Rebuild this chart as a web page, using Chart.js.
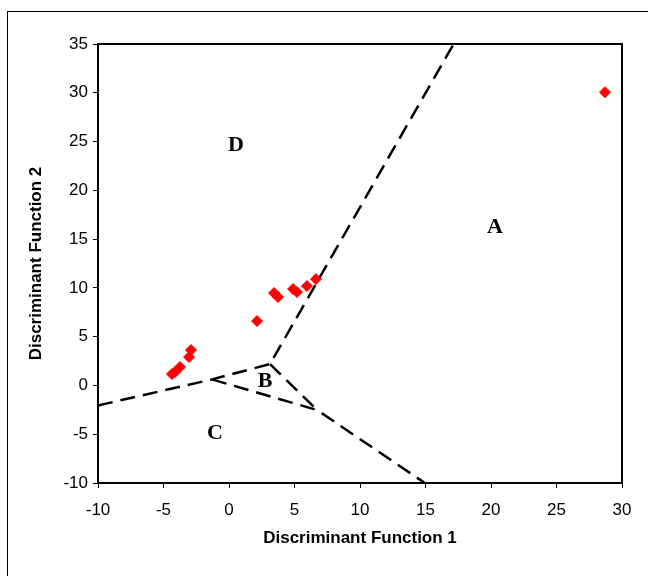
<!DOCTYPE html>
<html>
<head>
<meta charset="utf-8">
<script src="https://cdn.jsdelivr.net/npm/chart.js@4/dist/chart.umd.min.js"></script>
<style>
  body { margin: 0; background: #fff; overflow: hidden; }
  #frame { position: absolute; left: 7px; top: 11px; width: 660px; height: 600px; border: 1px solid #000; }
  #wrap { position: absolute; left: 0; top: 0; width: 648px; height: 576px; }
</style>
</head>
<body>
<div id="frame"></div>
<div id="wrap"><canvas id="chart" width="648" height="576"></canvas></div>
<script>
// observed cases
const pointX = [-4.35, -4.12, -3.74, -3.05, -2.9, 2.14, 3.44, 3.74, 4.89, 5.19, 5.95, 6.64, 28.7];
const pointY = [1.17, 1.37, 1.89, 2.91, 3.63, 6.6, 9.47, 9.06, 9.88, 9.57, 10.19, 10.9, 30.06];

// territorial map boundaries (dashed)
const boundary1X = [-10, -1.3, 3.13, 17.15];
const boundary1Y = [-2.05, 0.62, 2.19, 35];
const boundary2X = [-1.3, 6.72, 14.95];
const boundary2Y = [0.62, -2.52, -10];
const boundary3X = [3.13, 6.72];
const boundary3Y = [2.19, -2.52];

// group labels
const regionLabels = ['A', 'B', 'C', 'D'];
const regionX = [20.3, 2.75, -1.07, 0.53];
const regionY = [16.2, 0.45, -4.86, 24.6];

const xTicks = [-10, -5, 0, 5, 10, 15, 20, 25, 30];
const yTicks = [-10, -5, 0, 5, 10, 15, 20, 25, 30, 35];

const toPoints = (xs, ys) => xs.map((x, i) => ({ x: x, y: ys[i] }));

const dashed = (xs, ys) => ({
    type: 'line',
    data: toPoints(xs, ys),
    showLine: true,
    borderColor: '#000',
    borderWidth: 2.5,
    borderDash: [15, 8],
    pointRadius: 0,
    fill: false,
    tension: 0
});

const boxAndLabels = {
    id: 'boxAndLabels',
    afterDatasetsDraw(chart) {
        const { ctx, chartArea, scales } = chart;
        ctx.save();
        ctx.strokeStyle = '#000';
        ctx.lineWidth = 2;
        ctx.strokeRect(chartArea.left, chartArea.top, chartArea.right - chartArea.left, chartArea.bottom - chartArea.top);
        ctx.fillStyle = '#000';
        ctx.font = 'bold 22px "Liberation Serif", "Times New Roman", serif';
        ctx.textAlign = 'center';
        ctx.textBaseline = 'middle';
        regionLabels.forEach((t, i) => {
            ctx.fillText(t, scales.x.getPixelForValue(regionX[i]), scales.y.getPixelForValue(regionY[i]));
        });
        ctx.restore();
    }
};

const tickFont = { family: '"Liberation Sans", Arial, sans-serif', size: 17 };
const titleFont = { family: '"Liberation Sans", Arial, sans-serif', size: 17, weight: 'bold' };

new Chart(document.getElementById('chart'), {
    type: 'scatter',
    data: {
        datasets: [
            {
                data: toPoints(pointX, pointY),
                pointStyle: 'rectRot',
                pointRadius: 5.5,
                backgroundColor: '#ff0000',
                borderColor: '#ff0000',
                borderWidth: 1
            },
            dashed(boundary1X, boundary1Y),
            dashed(boundary2X, boundary2Y),
            dashed(boundary3X, boundary3Y)
        ]
    },
    options: {
        responsive: false,
        animation: false,
        layout: { padding: { top: 44, right: 26, left: 0, bottom: 0 } },
        plugins: { legend: { display: false }, tooltip: { enabled: false } },
        scales: {
            x: {
                type: 'linear',
                min: -10,
                max: 30,
                afterFit: s => { s.height = 93; },
                afterBuildTicks: s => { s.ticks = xTicks.map(v => ({ value: v })); },
                ticks: { color: '#000', font: tickFont, padding: 12, maxRotation: 0 },
                grid: { drawOnChartArea: false, drawTicks: true, tickLength: 5, color: '#000' },
                border: { display: true, color: '#000', width: 2 },
                title: { display: true, text: 'Discriminant Function 1', color: '#000', font: titleFont, padding: { top: 0, bottom: 27 } }
            },
            y: {
                type: 'linear',
                min: -10,
                max: 35,
                afterFit: s => { s.width = 98; },
                afterBuildTicks: s => { s.ticks = yTicks.map(v => ({ value: v })); },
                ticks: { color: '#000', font: tickFont, padding: 5 },
                grid: { drawOnChartArea: false, drawTicks: true, tickLength: 5, color: '#000' },
                border: { display: true, color: '#000', width: 2 },
                title: { display: true, text: 'Discriminant Function 2', color: '#000', font: titleFont, padding: { top: 26, bottom: 0 } }
            }
        }
    },
    plugins: [boxAndLabels]
});
</script>
</body>
</html>
